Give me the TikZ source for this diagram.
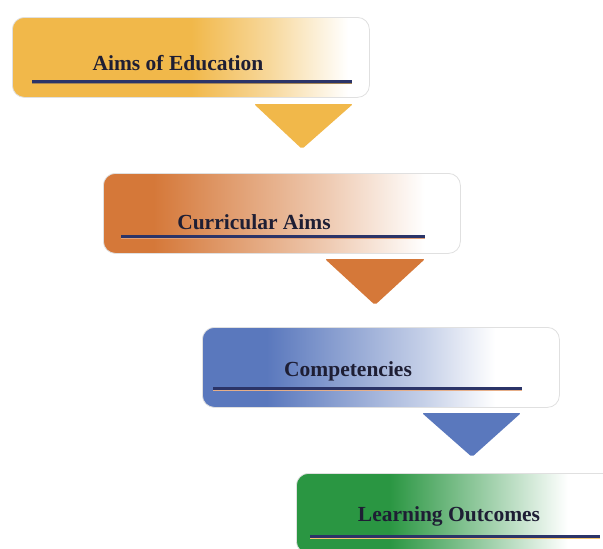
\documentclass[tikz,border=0pt]{standalone}
\usepackage{fontspec}
\setmainfont{Liberation Serif}
\definecolor{cA}{HTML}{F1B84A}
\definecolor{cB}{HTML}{D57839}
\definecolor{cC}{HTML}{5A78BD}
\definecolor{cD}{HTML}{2A9642}
\definecolor{navy}{HTML}{2B3468}
\definecolor{txt}{HTML}{1E1E34}
\pgfdeclarehorizontalshading{fadeA}{100bp}{color(0bp)=(cA); color(50bp)=(cA); color(61bp)=(cA!55); color(72bp)=(white); color(100bp)=(white)}
\pgfdeclarehorizontalshading{fadeB}{100bp}{color(0bp)=(cB); color(32bp)=(cB); color(56bp)=(cB!40); color(70bp)=(white); color(100bp)=(white)}
\pgfdeclarehorizontalshading{fadeC}{100bp}{color(0bp)=(cC); color(34bp)=(cC); color(56bp)=(cC!35); color(66bp)=(white); color(100bp)=(white)}
\pgfdeclarehorizontalshading{fadeD}{100bp}{color(0bp)=(cD); color(38bp)=(cD); color(52bp)=(cD!45); color(63bp)=(white); color(100bp)=(white)}
\tikzset{
  box/.style={rectangle, rounded corners=12pt, draw=black!12, line width=0.8pt,
    minimum width=357pt, minimum height=80pt, inner sep=0pt, anchor=north west},
  label/.style={font=\bfseries\fontsize{21.5}{24}\selectfont, text=txt, inner sep=0pt},
  rule/.style={line width=3pt, navy},
  tri/.style={rounded corners=2pt}
}
\begin{document}
\begin{tikzpicture}[x=1pt,y=-1pt]
\clip (0,0) rectangle (603,549);
\fill[white] (0,0) rectangle (603,549);
% boxes
\node[box, shading=fadeA] (b1) at (12,17) {};
\node[box, shading=fadeB] (b2) at (103,173) {};
\node[box, shading=fadeC] (b3) at (202,327) {};
\node[box, shading=fadeD] (b4) at (296,473) {};
% labels
\node[label] (t1) at (178,63) {Aims of Education};
\node[label] (t2) at (254,222) {Curricular Aims};
\node[label] (t3) at (348,371) {Competencies};
\node[label] (t4) at (449,516) {Learning Outcomes};
% underlines
\coordinate (u1a) at (32,81);  \coordinate (u1b) at (352,81);
\coordinate (u2a) at (121,236); \coordinate (u2b) at (425,236);
\coordinate (u3a) at (213,388); \coordinate (u3b) at (522,388);
\coordinate (u4a) at (310,536); \coordinate (u4b) at (600,536);
\draw[line width=1pt, cA!60!navy] ([yshift=-2pt]u1a) -- ([yshift=-2pt]u1b);
\draw[rule] (u1a) -- (u1b);
\draw[line width=1pt, cB!70] ([yshift=-2pt]u2a) -- ([yshift=-2pt]u2b);
\draw[rule] (u2a) -- (u2b);
\draw[line width=1.2pt, cB!60] ([yshift=-2.5pt]u3a) -- ([yshift=-2.5pt]u3b);
\draw[rule] (u3a) -- (u3b);
\draw[line width=1.2pt, cA!80] ([yshift=-2.5pt]u4a) -- ([yshift=-2.5pt]u4b);
\draw[rule] (u4a) -- (u4b);
% arrows (triangles)
\coordinate (a1l) at (254,104); \coordinate (a1r) at (353,104); \coordinate (a1t) at (302,149);
\coordinate (a2l) at (325,259); \coordinate (a2r) at (425,259); \coordinate (a2t) at (375,305);
\coordinate (a3l) at (422,413); \coordinate (a3r) at (521,413); \coordinate (a3t) at (472,457);
\fill[tri, cA] (a1l) -- (a1r) -- (a1t) -- cycle;
\fill[tri, cB] (a2l) -- (a2r) -- (a2t) -- cycle;
\fill[tri, cC] (a3l) -- (a3r) -- (a3t) -- cycle;
\end{tikzpicture}
\end{document}
